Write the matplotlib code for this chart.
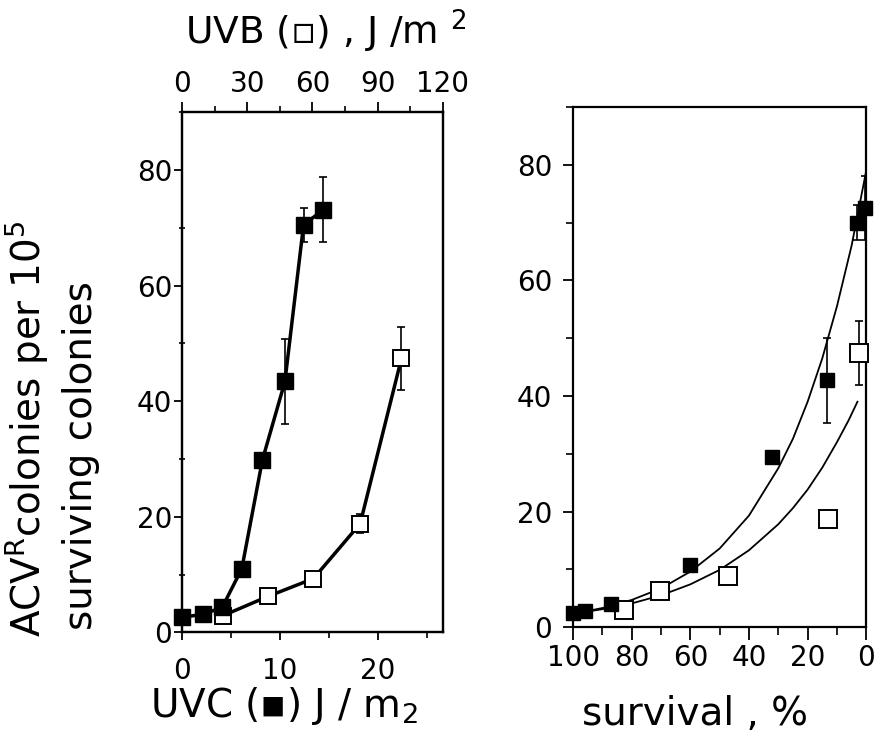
import matplotlib
matplotlib.use("Agg")
import matplotlib.pyplot as plt
from matplotlib.ticker import MultipleLocator

plt.rcParams['font.family'] = ['DejaVu Sans']
plt.rcParams['mathtext.default'] = 'regular'

# left panel, UVC dose (bottom axis) - filled squares
uvc_dose = [0, 2.1, 4.1, 6.1, 8.2, 10.5, 12.4, 14.4]
uvc_mut = [2.6, 3.1, 4.3, 11.0, 29.8, 43.4, 70.5, 73.1]
uvc_err = [0, 0, 0, 0, 0, 7.3, 3.0, 5.6]

# left panel, UVB dose (top axis) - open squares
uvb_dose = [19, 39.5, 60.5, 82, 101]
uvb_mut = [2.9, 6.2, 9.3, 18.8, 47.4]
uvb_err = [0, 0, 0, 1.6, 5.5]

# right panel, mutants vs survival
surv_uvc = [100, 96, 87, 60, 32, 13.5, 3.2, 0.5]
surv_uvc_mut = [2.4, 2.8, 4.0, 10.7, 29.4, 42.7, 70.0, 72.5]
surv_uvc_err = [0, 0, 0, 0, 0, 7.3, 3.0, 5.5]

surv_uvb = [82.5, 70.5, 47, 13, 2.5]
surv_uvb_mut = [2.9, 6.2, 8.8, 18.7, 47.4]
surv_uvb_err = [0, 0, 0, 0, 5.5]

# fitted curves
fit_uvc_s = [100, 90, 80, 70, 60, 50, 40, 30, 25, 20, 15, 10, 5, 0]
fit_uvc_y = [2.3, 3.3, 4.7, 6.7, 9.6, 13.6, 19.3, 27.5, 32.6, 39, 46.5, 55.5, 66, 79]
fit_uvb_s = [100, 90, 80, 70, 60, 50, 40, 30, 25, 20, 15, 10, 6, 3]
fit_uvb_y = [2.3, 3.1, 4.1, 5.5, 7.4, 9.9, 13.3, 17.8, 20.6, 23.8, 27.6, 32, 35.8, 39]

fig = plt.figure(figsize=(8.75, 7.43), dpi=100)

ax = fig.add_axes([0.208, 0.149, 0.298, 0.70])
ax2 = ax.twiny()
ax.set_zorder(ax2.get_zorder() + 1)
ax.patch.set_visible(False)

# open squares on UVB axis
ax2.plot(uvb_dose, uvb_mut, '-', color='black', lw=2.5, zorder=2)
ax2.errorbar(uvb_dose, uvb_mut, yerr=uvb_err, fmt='none', ecolor='black',
             elinewidth=1.2, capsize=3, capthick=1.2, zorder=1)
ax2.plot(uvb_dose, uvb_mut, 's', mfc='white', mec='black', mew=1.4, ms=11,
         zorder=3, clip_on=False)

# filled squares on UVC axis
ax.errorbar(uvc_dose, uvc_mut, yerr=uvc_err, fmt='none', ecolor='black',
            elinewidth=1.2, capsize=3, capthick=1.2, zorder=1)
ax.plot(uvc_dose, uvc_mut, 's-', color='black', lw=2.5, ms=11, zorder=3,
        clip_on=False)

ax.set_xlim(0, 26.6)
ax.set_ylim(0, 90)
ax2.set_xlim(0, 120)
ax.xaxis.set_major_locator(MultipleLocator(10))
ax.xaxis.set_minor_locator(MultipleLocator(5))
ax.yaxis.set_major_locator(MultipleLocator(20))
ax.yaxis.set_minor_locator(MultipleLocator(10))
ax2.xaxis.set_major_locator(MultipleLocator(30))
ax2.xaxis.set_minor_locator(MultipleLocator(15))

ax.tick_params(axis='x', which='major', direction='out', length=6, width=1.3,
               pad=12, labelsize=20)
ax.tick_params(axis='x', which='minor', direction='out', length=4, width=1.2)
ax.tick_params(axis='y', which='major', direction='out', length=6, width=1.3,
               pad=1, labelsize=20)
ax.tick_params(axis='y', which='minor', direction='inout', length=4, width=1.2)
ax2.tick_params(axis='x', which='major', direction='out', length=7, width=1.3,
                pad=3, labelsize=20)
ax2.tick_params(axis='x', which='minor', direction='out', length=4, width=1.2)

for a in (ax, ax2):
    for sp in a.spines.values():
        sp.set_linewidth(1.6)

# right panel
axr = fig.add_axes([0.655, 0.156, 0.335, 0.70])
axr.plot(fit_uvc_s, fit_uvc_y, '-', color='black', lw=1.3, zorder=2)
axr.plot(fit_uvb_s, fit_uvb_y, '-', color='black', lw=1.3, zorder=2)
axr.errorbar(surv_uvb, surv_uvb_mut, yerr=surv_uvb_err, fmt='none',
             ecolor='black', elinewidth=1.2, capsize=3, capthick=1.2, zorder=1)
axr.errorbar(surv_uvc, surv_uvc_mut, yerr=surv_uvc_err, fmt='none',
             ecolor='black', elinewidth=1.2, capsize=3, capthick=1.2, zorder=1)
axr.plot(surv_uvb, surv_uvb_mut, 's', mfc='white', mec='black', mew=1.4,
         ms=13.5, zorder=3, clip_on=False)
axr.plot(surv_uvc, surv_uvc_mut, 's', color='black', ms=10.5, zorder=4,
         clip_on=False)

axr.set_xlim(100, 0)
axr.set_ylim(0, 90)
axr.xaxis.set_major_locator(MultipleLocator(20))
axr.xaxis.set_minor_locator(MultipleLocator(10))
axr.yaxis.set_major_locator(MultipleLocator(20))
axr.yaxis.set_minor_locator(MultipleLocator(10))
axr.tick_params(axis='x', which='major', direction='out', length=9, width=1.3,
                pad=3, labelsize=20)
axr.tick_params(axis='x', which='minor', direction='out', length=6, width=1.2)
axr.tick_params(axis='y', which='major', direction='out', length=7, width=1.3,
                pad=8, labelsize=20)
axr.tick_params(axis='y', which='minor', direction='out', length=5, width=1.2)
for sp in axr.spines.values():
    sp.set_linewidth(1.6)

# axis titles
fig.text(185 / 875, 1 - 45 / 743, u"UVB (\u25ab) , J /m $^{2}$", fontsize=27,
         ha='left', va='baseline')
fig.text(150 / 875, 1 - 717 / 743, u"UVC (\u25aa) J / m$_{2}$", fontsize=28,
         ha='left', va='baseline')
fig.text(582 / 875, 1 - 725 / 743, "survival , %", fontsize=28,
         ha='left', va='baseline')
fig.text(40 / 875, 1 - 637 / 743, "ACV$^{R}$colonies per 10$^{5}$", fontsize=28,
         rotation=90, rotation_mode='anchor', ha='left', va='baseline')
fig.text(92 / 875, 1 - 630 / 743, "surviving colonies", fontsize=28,
         rotation=90, rotation_mode='anchor', ha='left', va='baseline')

fig.savefig("out.png", dpi=100)
